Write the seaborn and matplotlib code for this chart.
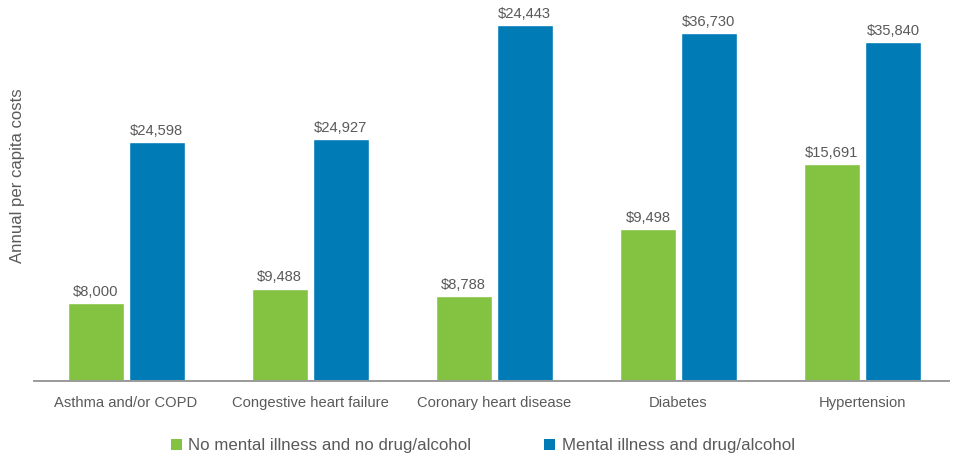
import matplotlib
matplotlib.use("Agg")
import matplotlib.pyplot as plt
from matplotlib.patches import Patch
import seaborn as sns
import pandas as pd

categories = ["Asthma and/or COPD", "Congestive heart failure", "Coronary heart disease",
              "Diabetes", "Hypertension"]
series_names = ["No mental illness and no drug/alcohol", "Mental illness and drug/alcohol"]
# bar heights as drawn in the reference (dollar scale)
no_mi_heights = [8000, 9488, 8728, 15633, 22331]
mi_heights = [24598, 24927, 36655, 35831, 34903]
# value labels as printed in the reference
no_mi_labels = ["$8,000", "$9,488", "$8,788", "$9,498", "$15,691"]
mi_labels = ["$24,598", "$24,927", "$24,443", "$36,730", "$35,840"]

green = "#84C341"
blue = "#007BB6"
text_col = "#5a5a5a"

sns.set_style("white")
plt.rcParams["font.family"] = ["Liberation Sans", "DejaVu Sans"]

df = pd.DataFrame({
    "category": categories * 2,
    "series": [series_names[0]] * 5 + [series_names[1]] * 5,
    "value": no_mi_heights + mi_heights,
})

fig = plt.figure(figsize=(9.56, 4.55), dpi=100)
ax = fig.add_axes([34 / 956, (455 - 380.7) / 455, (949 - 34) / 956, (380.7 - 20) / 455])

sns.barplot(data=df, x="category", y="value", hue="series", order=categories,
            hue_order=series_names, palette=[green, blue], width=0.663, gap=0.082,
            saturation=1, legend=False, ax=ax, errorbar=None)

labels_all = [no_mi_labels, mi_labels]
for cont, labs in zip(ax.containers, labels_all):
    ax.bar_label(cont, labels=labs, padding=3, fontsize=10.6, color=text_col)

ax.set_xlim(-0.5, 4.47)
ax.set_ylim(0, (380.7 - 20) * 103.05)
ax.set_xlabel("")
ax.set_ylabel("")
ax.set_yticks([])
ax.tick_params(axis="x", length=0, pad=11, labelsize=10.6, labelcolor=text_col)
for s in ["top", "right", "left"]:
    ax.spines[s].set_visible(False)
ax.spines["bottom"].set_color("#9a9a9a")
ax.spines["bottom"].set_linewidth(1.4)

fig.text(18 / 956, 1 - 176 / 455, "Annual per capita costs", rotation=90,
         ha="center", va="center", fontsize=12.1, color=text_col)

handles = [Patch(facecolor=green, edgecolor="none"), Patch(facecolor=blue, edgecolor="none")]
fig.legend(handles, series_names, loc="center", bbox_to_anchor=(0.505, 0.02), ncol=2,
           frameon=False, fontsize=12.2, handlelength=0.65, handleheight=0.65,
           handletextpad=0.4, columnspacing=4.3, borderpad=0, labelcolor=text_col)

fig.savefig("out.png", dpi=100)
